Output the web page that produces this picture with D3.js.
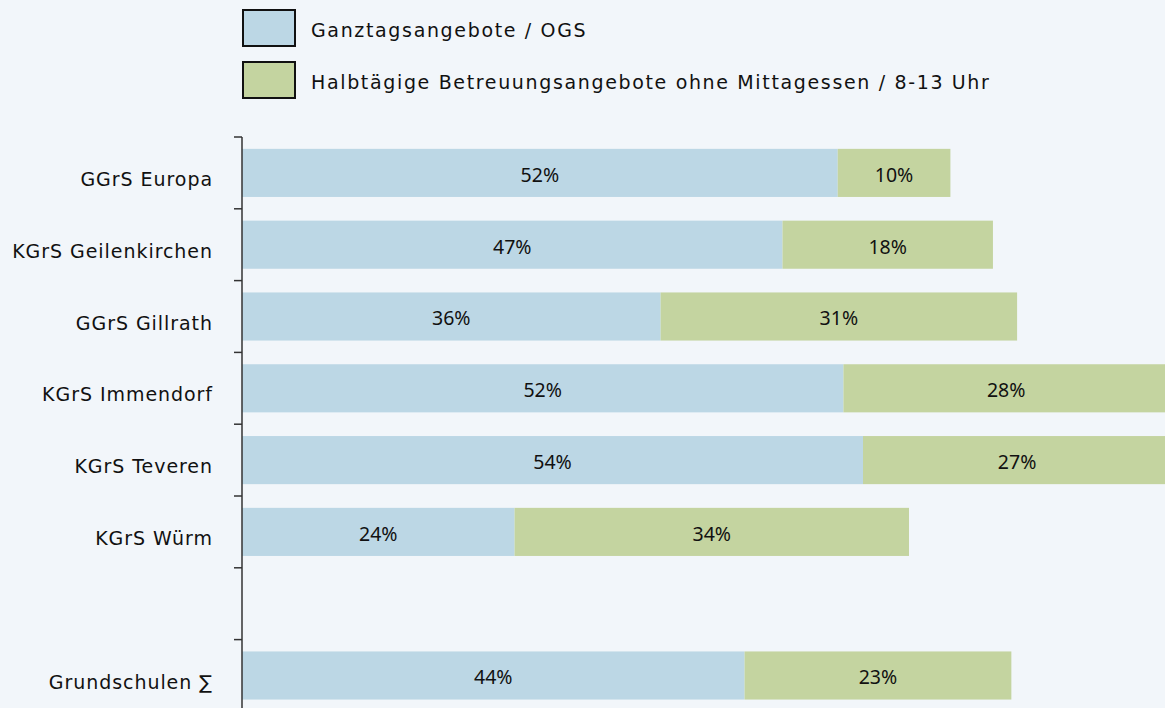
<!DOCTYPE html>
<html>
<head>
<meta charset="utf-8">
<script src="https://cdn.jsdelivr.net/npm/d3@7"></script>
<style>
  html, body { margin: 0; padding: 0; background: #f2f6fa; overflow: hidden; }
  svg { display: block; font-family: "DejaVu Sans", sans-serif; }
</style>
</head>
<body>
<div class="svg-container"></div>
<script>
// categories (empty slot separates the schools from the total)
const categories = ["GGrS Europa", "KGrS Geilenkirchen", "GGrS Gillrath", "KGrS Immendorf", "KGrS Teveren", "KGrS Würm", "", "Grundschulen ∑"];
const ogsValues = [51.8, 47.0, 36.4, 52.3, 54.0, 23.7, null, 43.7];
const halbValues = [9.8, 18.3, 31.0, 28.3, 26.8, 34.3, null, 23.2];
const ogsLabels = ["52%", "47%", "36%", "52%", "54%", "24%", "", "44%"];
const halbLabels = ["10%", "18%", "31%", "28%", "27%", "34%", "", "23%"];
const seriesNames = ["Ganztagsangebote / OGS", "Halbtägige Betreuungsangebote ohne Mittagessen / 8-13 Uhr"];
const seriesColors = ["#bcd7e5", "#c4d4a0"];

const svgWidth = 1165;
const svgHeight = 708;
const margin = { top: 137, left: 242 };

const svg = d3.select('.svg-container')
  .append('svg')
  .attr('width', svgWidth)
  .attr('height', svgHeight);

const x = d3.scaleLinear().domain([0, 100]).range([margin.left, margin.left + 1150]);
const y = d3.scaleBand()
  .domain(categories.map((d, i) => i))
  .range([margin.top, margin.top + 8 * 71.8])
  .paddingInner(0.33)
  .paddingOuter(0.165);

const rows = categories.map((c, i) => ({
  i, name: c, ogs: ogsValues[i], halb: halbValues[i], ogsLabel: ogsLabels[i], halbLabel: halbLabels[i]
})).filter(d => d.ogs !== null);

// bars
const bars = svg.append('g');
bars.selectAll('rect.ogs')
  .data(rows)
  .join('rect')
  .attr('class', 'ogs')
  .attr('x', x(0))
  .attr('y', d => y(d.i))
  .attr('width', d => x(d.ogs) - x(0))
  .attr('height', y.bandwidth())
  .attr('fill', seriesColors[0]);
bars.selectAll('rect.halb')
  .data(rows)
  .join('rect')
  .attr('class', 'halb')
  .attr('x', d => x(d.ogs))
  .attr('y', d => y(d.i))
  .attr('width', d => x(d.ogs + d.halb) - x(d.ogs))
  .attr('height', y.bandwidth())
  .attr('fill', seriesColors[1]);

// value labels
function valueLabel(cls, cx, txt) {
  bars.selectAll('text.' + cls)
    .data(rows)
    .join('text')
    .attr('class', cls)
    .attr('x', cx)
    .attr('y', d => y(d.i) + y.bandwidth() / 2 + 2)
    .attr('dy', '0.35em')
    .attr('text-anchor', 'middle')
    .attr('font-family', '"Noto Sans", sans-serif')
    .attr('font-size', 19.5)
    .attr('fill', '#111')
    .text(txt);
}
valueLabel('ogs', d => (x(0) + x(d.ogs)) / 2, d => d.ogsLabel);
valueLabel('halb', d => (x(d.ogs) + x(d.ogs + d.halb)) / 2, d => d.halbLabel);

// Y axis: labels from the band scale, ticks at the band boundaries
const axis = svg.append('g')
  .attr('transform', `translate(${margin.left}, 7)`)
  .call(d3.axisLeft(y).tickSize(0).tickPadding(29).tickFormat(i => categories[i]));
axis.select('.domain').remove();
axis.selectAll('text')
  .attr('font-size', 19)
  .attr('letter-spacing', 0.95)
  .attr('fill', '#111')
  .attr('font-family', '"DejaVu Sans", sans-serif');

const step = y.step();
const bounds = d3.range(categories.length + 1).map(k => y.range()[0] + k * step);
svg.append('line')
  .attr('x1', margin.left).attr('x2', margin.left)
  .attr('y1', y.range()[0]).attr('y2', y.range()[1])
  .attr('stroke', '#333').attr('stroke-width', 1.5);
svg.selectAll('line.tick')
  .data(bounds)
  .join('line')
  .attr('class', 'tick')
  .attr('x1', margin.left - 8).attr('x2', margin.left)
  .attr('y1', d => d).attr('y2', d => d)
  .attr('stroke', '#333').attr('stroke-width', 1.5);

// legend
const legend = svg.append('g').attr('transform', 'translate(243, 10)');
const item = legend.selectAll('g')
  .data(seriesNames)
  .join('g')
  .attr('transform', (d, i) => `translate(0, ${i * 52})`);
item.append('rect')
  .attr('width', 52).attr('height', 36)
  .attr('fill', (d, i) => seriesColors[i])
  .attr('stroke', '#111').attr('stroke-width', 2);
item.append('text')
  .attr('x', 68).attr('y', 20)
  .attr('dy', '0.35em')
  .attr('font-size', 19)
  .attr('letter-spacing', 1.65)
  .attr('fill', '#111')
  .text(d => d);
</script>
</body>
</html>
